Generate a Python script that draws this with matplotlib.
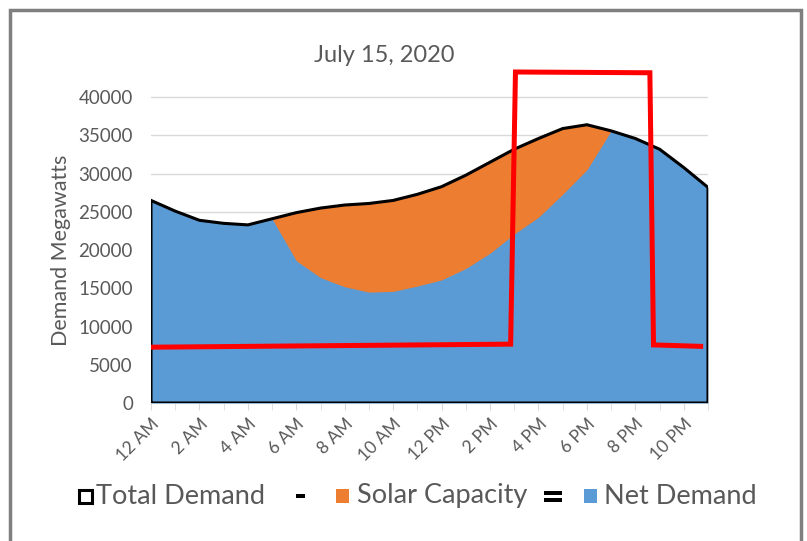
import numpy as np
import matplotlib.pyplot as plt
from matplotlib.patches import Rectangle

plt.rcParams['font.family'] = ['Lato', 'DejaVu Sans']

# hourly demand, megawatts
hours = np.arange(24)
total_demand = [26500, 25100, 23900, 23500, 23300, 24100, 24900, 25500,
                25900, 26100, 26500, 27300, 28300, 29800, 31500, 33200,
                34600, 35900, 36400, 35600, 34600, 33200, 30800, 28200]
net_demand = [26500, 25100, 23900, 23500, 23300, 24100, 18600, 16400,
              15200, 14500, 14600, 15300, 16100, 17600, 19600, 22100,
              24300, 27300, 30500, 35600, 34600, 33200, 30800, 28200]

# red block line (hour, MW)
red_x = [0, 14.85, 15.05, 20.6, 20.75, 22.8]
red_y = [7300, 7700, 43300, 43200, 7600, 7400]

tick_hours = np.arange(0, 24, 2)
tick_labels = ['12 AM', '2 AM', '4 AM', '6 AM', '8 AM', '10 AM',
               '12 PM', '2 PM', '4 PM', '6 PM', '8 PM', '10 PM']

blue = '#5B9BD5'
orange = '#ED7D31'
grey_text = '#595959'

fig = plt.figure(figsize=(8.07, 5.41), dpi=100)
ax = fig.add_axes([151/807, 138/541, 557/807, 344/541])

ax.fill_between(hours, 0, total_demand, color=orange, lw=0, zorder=2)
ax.fill_between(hours, 0, net_demand, color=blue, lw=0, zorder=3)
# outline of the total demand area
ax.plot(np.r_[0, hours, 23, 0], np.r_[0, total_demand, 0, 0],
        color='black', lw=2.2, zorder=4, solid_joinstyle='miter')
ax.plot(red_x, red_y, color='#FF0000', lw=3.6, zorder=5,
        solid_joinstyle='miter', solid_capstyle='butt', clip_on=False)

ax.set_xlim(0, 23)
ax.set_ylim(0, 45000)
ax.set_yticks(np.arange(0, 40001, 5000))
ax.grid(axis='y', color='#D9D9D9', lw=1, zorder=0)
ax.set_axisbelow(True)
ax.set_xticks(tick_hours)
ax.set_xticks(hours, minor=True)
ax.set_xticklabels(tick_labels, rotation=45, ha='right', rotation_mode='anchor')
ax.tick_params(axis='x', which='both', length=5, color='#D9D9D9',
               labelsize=12.5, labelcolor=grey_text, pad=4)
ax.tick_params(axis='y', length=0, labelsize=13.5, labelcolor=grey_text, pad=13)
for s in ['top', 'right', 'left']:
    ax.spines[s].set_visible(False)
ax.spines['bottom'].set_color('#D9D9D9')
ax.set_ylabel('Demand Megawatts', fontsize=15.5, color=grey_text)
ax.yaxis.set_label_coords(-0.143, 0.445)

fig.text(384/807, 1 - 55/541, 'July 15, 2020', fontsize=17, color=grey_text,
         ha='center', va='center')

# equation-style legend along the bottom
ly = 1 - 496/541
fig.patches.append(Rectangle((79/807, ly - 6.5/541), 13/807, 13/541,
                             transform=fig.transFigure, fill=False,
                             ec='black', lw=2.2))
fig.text(96/807, ly, 'Total Demand', fontsize=19.5, color=grey_text, va='center')
fig.patches.append(Rectangle((296/807, ly - 2/541), 9/807, 4/541,
                             transform=fig.transFigure, color='black', lw=0))
fig.patches.append(Rectangle((336/807, ly - 7/541), 13/807, 14/541,
                             transform=fig.transFigure, color=orange, lw=0))
fig.text(357/807, ly, 'Solar Capacity', fontsize=19.5, color=grey_text, va='center')
for dy in (-4, 3):
    fig.patches.append(Rectangle((544/807, ly + (dy - 1.5)/541), 18/807, 3.5/541,
                                 transform=fig.transFigure, color='black', lw=0))
fig.patches.append(Rectangle((584/807, ly - 7/541), 13/807, 14/541,
                             transform=fig.transFigure, color=blue, lw=0))
fig.text(604/807, ly, 'Net Demand', fontsize=19.5, color=grey_text, va='center')

# grey frame around the figure
fig.patches.append(Rectangle((9.5/807, -0.05), 791/807, 1.05 - 10.5/541,
                             transform=fig.transFigure, fill=False,
                             ec='#7F7F7F', lw=2.5))

fig.savefig('out.png', dpi=100)
